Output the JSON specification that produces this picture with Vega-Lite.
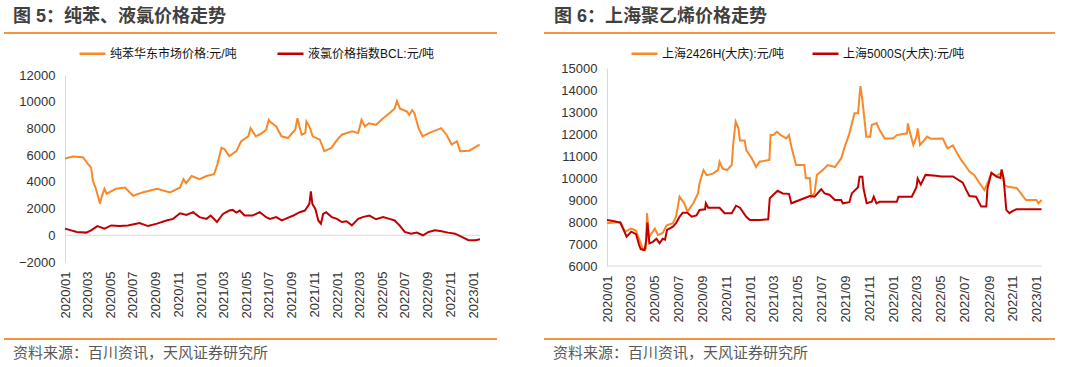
{
  "$schema": "https://vega.github.io/schema/vega-lite/v6.json",
  "background": "white",
  "padding": {"left": 4, "top": 8, "right": 0, "bottom": 0},
  "config": {
    "font": "Liberation Sans, Noto Sans CJK SC",
    "view": {"stroke": null},
    "axis": {"labelFont": "Liberation Sans, Noto Sans CJK SC", "labelFontSize": 13, "labelColor": "#333333", "domainColor": "#D9D9D9", "domainWidth": 1, "ticks": false, "grid": false, "title": null, "labelOverlap": false},
    "legend": {"labelFont": "Liberation Sans, Noto Sans CJK SC", "labelFontSize": 12, "labelColor": "#111111", "title": null, "padding": 0},
    "title": {"anchor": "start", "font": "Liberation Sans, Noto Sans CJK SC", "fontSize": 18, "fontWeight": "bold", "color": "#404040"}
  },
  "resolve": {"scale": {"x": "independent", "y": "independent", "color": "independent"}, "legend": {"color": "independent"}, "axis": {"x": "independent", "y": "independent"}},
  "spacing": 47,
  "hconcat": [
    {
      "spacing": 3,
      "resolve": {"scale": {"x": "independent", "y": "independent", "color": "independent"}, "legend": {"color": "independent"}},
      "vconcat": [
        {
          "width": 493, "height": 2,
          "view": {"fill": "#F29540", "stroke": null},
          "title": {"text": "图 5：纯苯、液氯价格走势", "dx": 9, "offset": -14, "baseline": "bottom"},
          "data": {"values": [{}]},
          "mark": {"type": "point", "opacity": 0},
          "encoding": {}
        },
        {
          "width": 476, "height": 187,
          "layer": [
            {
              "data": {"values": [{}]},
              "mark": {"type": "rule", "color": "#D9D9D9", "strokeWidth": 1},
              "encoding": {
                "y": {"datum": 0, "type": "quantitative",
                  "scale": {"domain": [-2000, 12000], "nice": false, "zero": false},
                  "axis": {"values": [-2000, 0, 2000, 4000, 6000, 8000, 10000, 12000], "format": "d", "labelPadding": 10, "offset": -61, "labelOverlap": false}},
                "x": {"datum": {"year": 2020, "month": 1, "date": 1, "utc": true}, "type": "temporal",
                  "scale": {"type": "utc", "range": [61, 476], "domain": [{"year": 2020, "month": 1, "date": 1, "utc": true}, {"year": 2023, "month": 1, "date": 19, "utc": true}]},
                  "axis": {"format": "%Y/%m", "labelAngle": -90, "domain": false, "labelPadding": 9, "minExtent": 71, "labelFlush": false, "labelOverlap": false,
                    "values": [
                      {"year": 2020, "month": 1, "date": 1, "utc": true}, {"year": 2020, "month": 3, "date": 1, "utc": true}, {"year": 2020, "month": 5, "date": 1, "utc": true}, {"year": 2020, "month": 7, "date": 1, "utc": true}, {"year": 2020, "month": 9, "date": 1, "utc": true}, {"year": 2020, "month": 11, "date": 1, "utc": true},
                      {"year": 2021, "month": 1, "date": 1, "utc": true}, {"year": 2021, "month": 3, "date": 1, "utc": true}, {"year": 2021, "month": 5, "date": 1, "utc": true}, {"year": 2021, "month": 7, "date": 1, "utc": true}, {"year": 2021, "month": 9, "date": 1, "utc": true}, {"year": 2021, "month": 11, "date": 1, "utc": true},
                      {"year": 2022, "month": 1, "date": 1, "utc": true}, {"year": 2022, "month": 3, "date": 1, "utc": true}, {"year": 2022, "month": 5, "date": 1, "utc": true}, {"year": 2022, "month": 7, "date": 1, "utc": true}, {"year": 2022, "month": 9, "date": 1, "utc": true}, {"year": 2022, "month": 11, "date": 1, "utc": true},
                      {"year": 2023, "month": 1, "date": 1, "utc": true}
                    ]}},
                "x2": {"datum": {"year": 2023, "month": 1, "date": 19, "utc": true}}
              }
            },
            {
              "data": {"values": [
                {"date": "2020-01-01", "series": "纯苯华东市场价格:元/吨", "value": 5750},
                {"date": "2020-01-22", "series": "纯苯华东市场价格:元/吨", "value": 5900},
                {"date": "2020-02-18", "series": "纯苯华东市场价格:元/吨", "value": 5850},
                {"date": "2020-03-03", "series": "纯苯华东市场价格:元/吨", "value": 5330},
                {"date": "2020-03-11", "series": "纯苯华东市场价格:元/吨", "value": 5060},
                {"date": "2020-03-16", "series": "纯苯华东市场价格:元/吨", "value": 4070},
                {"date": "2020-03-24", "series": "纯苯华东市场价格:元/吨", "value": 3480},
                {"date": "2020-04-04", "series": "纯苯华东市场价格:元/吨", "value": 2370},
                {"date": "2020-04-08", "series": "纯苯华东市场价格:元/吨", "value": 2840},
                {"date": "2020-04-16", "series": "纯苯华东市场价格:元/吨", "value": 3480},
                {"date": "2020-04-22", "series": "纯苯华东市场价格:元/吨", "value": 3110},
                {"date": "2020-05-01", "series": "纯苯华东市场价格:元/吨", "value": 3250},
                {"date": "2020-05-17", "series": "纯苯华东市场价格:元/吨", "value": 3480},
                {"date": "2020-06-10", "series": "纯苯华东市场价格:元/吨", "value": 3580},
                {"date": "2020-07-02", "series": "纯苯华东市场价格:元/吨", "value": 2960},
                {"date": "2020-07-27", "series": "纯苯华东市场价格:元/吨", "value": 3210},
                {"date": "2020-09-04", "series": "纯苯华东市场价格:元/吨", "value": 3480},
                {"date": "2020-10-09", "series": "纯苯华东市场价格:元/吨", "value": 3210},
                {"date": "2020-11-05", "series": "纯苯华东市场价格:元/吨", "value": 3580},
                {"date": "2020-11-14", "series": "纯苯华东市场价格:元/吨", "value": 4200},
                {"date": "2020-11-21", "series": "纯苯华东市场价格:元/吨", "value": 3900},
                {"date": "2020-12-06", "series": "纯苯华东市场价格:元/吨", "value": 4440},
                {"date": "2020-12-27", "series": "纯苯华东市场价格:元/吨", "value": 4200},
                {"date": "2021-01-15", "series": "纯苯华东市场价格:元/吨", "value": 4440},
                {"date": "2021-02-04", "series": "纯苯华东市场价格:元/吨", "value": 4570},
                {"date": "2021-02-13", "series": "纯苯华东市场价格:元/吨", "value": 5310},
                {"date": "2021-02-24", "series": "纯苯华东市场价格:元/吨", "value": 6540},
                {"date": "2021-03-04", "series": "纯苯华东市场价格:元/吨", "value": 6450},
                {"date": "2021-03-17", "series": "纯苯华东市场价格:元/吨", "value": 5930},
                {"date": "2021-04-05", "series": "纯苯华东市场价格:元/吨", "value": 6300},
                {"date": "2021-04-18", "series": "纯苯华东市场价格:元/吨", "value": 7040},
                {"date": "2021-05-07", "series": "纯苯华东市场价格:元/吨", "value": 7410},
                {"date": "2021-05-13", "series": "纯苯华东市场价格:元/吨", "value": 8020},
                {"date": "2021-05-27", "series": "纯苯华东市场价格:元/吨", "value": 7410},
                {"date": "2021-06-10", "series": "纯苯华东市场价格:元/吨", "value": 7600},
                {"date": "2021-06-24", "series": "纯苯华东市场价格:元/吨", "value": 7900},
                {"date": "2021-07-01", "series": "纯苯华东市场价格:元/吨", "value": 8640},
                {"date": "2021-07-04", "series": "纯苯华东市场价格:元/吨", "value": 8520},
                {"date": "2021-07-21", "series": "纯苯华东市场价格:元/吨", "value": 8150},
                {"date": "2021-08-04", "series": "纯苯华东市场价格:元/吨", "value": 7410},
                {"date": "2021-08-21", "series": "纯苯华东市场价格:元/吨", "value": 7280},
                {"date": "2021-09-10", "series": "纯苯华东市场价格:元/吨", "value": 7900},
                {"date": "2021-09-16", "series": "纯苯华东市场价格:元/吨", "value": 8760},
                {"date": "2021-09-27", "series": "纯苯华东市场价格:元/吨", "value": 7530},
                {"date": "2021-10-07", "series": "纯苯华东市场价格:元/吨", "value": 7650},
                {"date": "2021-10-10", "series": "纯苯华东市场价格:元/吨", "value": 8520},
                {"date": "2021-10-18", "series": "纯苯华东市场价格:元/吨", "value": 8150},
                {"date": "2021-10-27", "series": "纯苯华东市场价格:元/吨", "value": 7410},
                {"date": "2021-11-15", "series": "纯苯华东市场价格:元/吨", "value": 7160},
                {"date": "2021-11-27", "series": "纯苯华东市场价格:元/吨", "value": 6300},
                {"date": "2021-12-16", "series": "纯苯华东市场价格:元/吨", "value": 6540},
                {"date": "2022-01-01", "series": "纯苯华东市场价格:元/吨", "value": 7160},
                {"date": "2022-01-13", "series": "纯苯华东市场价格:元/吨", "value": 7530},
                {"date": "2022-02-10", "series": "纯苯华东市场价格:元/吨", "value": 7780},
                {"date": "2022-02-26", "series": "纯苯华东市场价格:元/吨", "value": 7650},
                {"date": "2022-03-07", "series": "纯苯华东市场价格:元/吨", "value": 8640},
                {"date": "2022-03-16", "series": "纯苯华东市场价格:元/吨", "value": 8150},
                {"date": "2022-03-27", "series": "纯苯华东市场价格:元/吨", "value": 8390},
                {"date": "2022-04-15", "series": "纯苯华东市场价格:元/吨", "value": 8270},
                {"date": "2022-05-04", "series": "纯苯华东市场价格:元/吨", "value": 8760},
                {"date": "2022-05-21", "series": "纯苯华东市场价格:元/吨", "value": 9130},
                {"date": "2022-06-04", "series": "纯苯华东市场价格:元/吨", "value": 9500},
                {"date": "2022-06-10", "series": "纯苯华东市场价格:元/吨", "value": 10050},
                {"date": "2022-06-18", "series": "纯苯华东市场价格:元/吨", "value": 9500},
                {"date": "2022-07-07", "series": "纯苯华东市场价格:元/吨", "value": 9260},
                {"date": "2022-07-13", "series": "纯苯华东市场价格:元/吨", "value": 9010},
                {"date": "2022-07-21", "series": "纯苯华东市场价格:元/吨", "value": 9380},
                {"date": "2022-07-27", "series": "纯苯华东市场价格:元/吨", "value": 9130},
                {"date": "2022-08-07", "series": "纯苯华东市场价格:元/吨", "value": 8020},
                {"date": "2022-08-18", "series": "纯苯华东市场价格:元/吨", "value": 7410},
                {"date": "2022-09-04", "series": "纯苯华东市场价格:元/吨", "value": 7650},
                {"date": "2022-10-07", "series": "纯苯华东市场价格:元/吨", "value": 8020},
                {"date": "2022-10-21", "series": "纯苯华东市场价格:元/吨", "value": 7530},
                {"date": "2022-11-04", "series": "纯苯华东市场价格:元/吨", "value": 6790},
                {"date": "2022-11-18", "series": "纯苯华东市场价格:元/吨", "value": 7040},
                {"date": "2022-11-27", "series": "纯苯华东市场价格:元/吨", "value": 6300},
                {"date": "2022-12-21", "series": "纯苯华东市场价格:元/吨", "value": 6330},
                {"date": "2023-01-18", "series": "纯苯华东市场价格:元/吨", "value": 6790},
                {"date": "2020-01-01", "series": "液氯价格指数BCL:元/吨", "value": 500},
                {"date": "2020-02-02", "series": "液氯价格指数BCL:元/吨", "value": 250},
                {"date": "2020-02-27", "series": "液氯价格指数BCL:元/吨", "value": 200},
                {"date": "2020-03-11", "series": "液氯价格指数BCL:元/吨", "value": 370},
                {"date": "2020-03-28", "series": "液氯价格指数BCL:元/吨", "value": 690},
                {"date": "2020-04-16", "series": "液氯价格指数BCL:元/吨", "value": 500},
                {"date": "2020-05-04", "series": "液氯价格指数BCL:元/吨", "value": 740},
                {"date": "2020-05-26", "series": "液氯价格指数BCL:元/吨", "value": 700},
                {"date": "2020-06-18", "series": "液氯价格指数BCL:元/吨", "value": 740},
                {"date": "2020-07-10", "series": "液氯价格指数BCL:元/吨", "value": 870},
                {"date": "2020-07-19", "series": "液氯价格指数BCL:元/吨", "value": 920},
                {"date": "2020-08-11", "series": "液氯价格指数BCL:元/吨", "value": 690},
                {"date": "2020-09-04", "series": "液氯价格指数BCL:元/吨", "value": 870},
                {"date": "2020-09-29", "series": "液氯价格指数BCL:元/吨", "value": 1110},
                {"date": "2020-10-17", "series": "液氯价格指数BCL:元/吨", "value": 1230},
                {"date": "2020-11-05", "series": "液氯价格指数BCL:元/吨", "value": 1650},
                {"date": "2020-11-22", "series": "液氯价格指数BCL:元/吨", "value": 1530},
                {"date": "2020-12-10", "series": "液氯价格指数BCL:元/吨", "value": 1730},
                {"date": "2020-12-27", "series": "液氯价格指数BCL:元/吨", "value": 1360},
                {"date": "2021-01-15", "series": "液氯价格指数BCL:元/吨", "value": 1230},
                {"date": "2021-01-26", "series": "液氯价格指数BCL:元/吨", "value": 1480},
                {"date": "2021-02-12", "series": "液氯价格指数BCL:元/吨", "value": 990},
                {"date": "2021-02-28", "series": "液氯价格指数BCL:元/吨", "value": 1600},
                {"date": "2021-03-17", "series": "液氯价格指数BCL:元/吨", "value": 1850},
                {"date": "2021-03-26", "series": "液氯价格指数BCL:元/吨", "value": 1900},
                {"date": "2021-04-05", "series": "液氯价格指数BCL:元/吨", "value": 1700},
                {"date": "2021-04-14", "series": "液氯价格指数BCL:元/吨", "value": 1850},
                {"date": "2021-04-27", "series": "液氯价格指数BCL:元/吨", "value": 1480},
                {"date": "2021-05-19", "series": "液氯价格指数BCL:元/吨", "value": 1480},
                {"date": "2021-06-07", "series": "液氯价格指数BCL:元/吨", "value": 1730},
                {"date": "2021-06-24", "series": "液氯价格指数BCL:元/吨", "value": 1350},
                {"date": "2021-07-04", "series": "液氯价格指数BCL:元/吨", "value": 1230},
                {"date": "2021-07-21", "series": "液氯价格指数BCL:元/吨", "value": 1360},
                {"date": "2021-08-05", "series": "液氯价格指数BCL:元/吨", "value": 1110},
                {"date": "2021-08-21", "series": "液氯价格指数BCL:元/吨", "value": 1300},
                {"date": "2021-09-05", "series": "液氯价格指数BCL:元/吨", "value": 1480},
                {"date": "2021-09-22", "series": "液氯价格指数BCL:元/吨", "value": 1730},
                {"date": "2021-10-06", "series": "液氯价格指数BCL:元/吨", "value": 1850},
                {"date": "2021-10-18", "series": "液氯价格指数BCL:元/吨", "value": 2350},
                {"date": "2021-10-22", "series": "液氯价格指数BCL:元/吨", "value": 3280},
                {"date": "2021-10-26", "series": "液氯价格指数BCL:元/吨", "value": 2350},
                {"date": "2021-11-03", "series": "液氯价格指数BCL:元/吨", "value": 1970},
                {"date": "2021-11-11", "series": "液氯价格指数BCL:元/吨", "value": 1110},
                {"date": "2021-11-18", "series": "液氯价格指数BCL:元/吨", "value": 870},
                {"date": "2021-11-24", "series": "液氯价格指数BCL:元/吨", "value": 1600},
                {"date": "2021-12-02", "series": "液氯价格指数BCL:元/吨", "value": 1730},
                {"date": "2021-12-17", "series": "液氯价格指数BCL:元/吨", "value": 1360},
                {"date": "2021-12-31", "series": "液氯价格指数BCL:元/吨", "value": 1230},
                {"date": "2022-01-13", "series": "液氯价格指数BCL:元/吨", "value": 990},
                {"date": "2022-01-26", "series": "液氯价格指数BCL:元/吨", "value": 1050},
                {"date": "2022-02-09", "series": "液氯价格指数BCL:元/吨", "value": 740},
                {"date": "2022-02-26", "series": "液氯价格指数BCL:元/吨", "value": 1230},
                {"date": "2022-03-10", "series": "液氯价格指数BCL:元/吨", "value": 1360},
                {"date": "2022-03-28", "series": "液氯价格指数BCL:元/吨", "value": 1480},
                {"date": "2022-04-15", "series": "液氯价格指数BCL:元/吨", "value": 1200},
                {"date": "2022-05-04", "series": "液氯价格指数BCL:元/吨", "value": 1360},
                {"date": "2022-05-21", "series": "液氯价格指数BCL:元/吨", "value": 1230},
                {"date": "2022-06-04", "series": "液氯价格指数BCL:元/吨", "value": 1110},
                {"date": "2022-06-17", "series": "液氯价格指数BCL:元/吨", "value": 740},
                {"date": "2022-07-01", "series": "液氯价格指数BCL:元/吨", "value": 250},
                {"date": "2022-07-18", "series": "液氯价格指数BCL:元/吨", "value": 120},
                {"date": "2022-08-02", "series": "液氯价格指数BCL:元/吨", "value": 200},
                {"date": "2022-08-19", "series": "液氯价格指数BCL:元/吨", "value": 0},
                {"date": "2022-09-03", "series": "液氯价格指数BCL:元/吨", "value": 250},
                {"date": "2022-09-20", "series": "液氯价格指数BCL:元/吨", "value": 370},
                {"date": "2022-10-08", "series": "液氯价格指数BCL:元/吨", "value": 300},
                {"date": "2022-10-25", "series": "液氯价格指数BCL:元/吨", "value": 200},
                {"date": "2022-11-13", "series": "液氯价格指数BCL:元/吨", "value": 120},
                {"date": "2022-12-01", "series": "液氯价格指数BCL:元/吨", "value": -120},
                {"date": "2022-12-19", "series": "液氯价格指数BCL:元/吨", "value": -370},
                {"date": "2023-01-07", "series": "液氯价格指数BCL:元/吨", "value": -370},
                {"date": "2023-01-19", "series": "液氯价格指数BCL:元/吨", "value": -300}
              ]},
              "mark": {"type": "line", "strokeWidth": 2},
              "encoding": {
                "x": {"field": "date", "type": "temporal",
                  "scale": {"type": "utc", "range": [61, 476], "domain": [{"year": 2020, "month": 1, "date": 1, "utc": true}, {"year": 2023, "month": 1, "date": 19, "utc": true}]},
                  "axis": {"format": "%Y/%m", "labelAngle": -90, "domain": false, "labelPadding": 9, "minExtent": 71, "labelFlush": false, "labelOverlap": false,
                    "values": [
                      {"year": 2020, "month": 1, "date": 1, "utc": true}, {"year": 2020, "month": 3, "date": 1, "utc": true}, {"year": 2020, "month": 5, "date": 1, "utc": true}, {"year": 2020, "month": 7, "date": 1, "utc": true}, {"year": 2020, "month": 9, "date": 1, "utc": true}, {"year": 2020, "month": 11, "date": 1, "utc": true},
                      {"year": 2021, "month": 1, "date": 1, "utc": true}, {"year": 2021, "month": 3, "date": 1, "utc": true}, {"year": 2021, "month": 5, "date": 1, "utc": true}, {"year": 2021, "month": 7, "date": 1, "utc": true}, {"year": 2021, "month": 9, "date": 1, "utc": true}, {"year": 2021, "month": 11, "date": 1, "utc": true},
                      {"year": 2022, "month": 1, "date": 1, "utc": true}, {"year": 2022, "month": 3, "date": 1, "utc": true}, {"year": 2022, "month": 5, "date": 1, "utc": true}, {"year": 2022, "month": 7, "date": 1, "utc": true}, {"year": 2022, "month": 9, "date": 1, "utc": true}, {"year": 2022, "month": 11, "date": 1, "utc": true},
                      {"year": 2023, "month": 1, "date": 1, "utc": true}
                    ]}},
                "y": {"field": "value", "type": "quantitative",
                  "scale": {"domain": [-2000, 12000], "nice": false, "zero": false},
                  "axis": {"values": [-2000, 0, 2000, 4000, 6000, 8000, 10000, 12000], "format": "d", "labelPadding": 10, "offset": -61, "labelOverlap": false}},
                "color": {"field": "series", "type": "nominal",
                  "scale": {"domain": ["纯苯华东市场价格:元/吨", "液氯价格指数BCL:元/吨"], "range": ["#F7892B", "#C00000"]},
                  "legend": {"orient": "none", "legendX": 74, "legendY": -36, "direction": "horizontal", "symbolType": "stroke", "symbolSize": 676, "symbolStrokeWidth": 2.5, "columnPadding": 35, "labelOffset": 3}}
              }
            }
          ]
        },
        {
          "width": 493, "height": 2,
          "view": {"fill": "#F29540", "stroke": null},
          "title": {"text": "资料来源：百川资讯，天风证券研究所", "orient": "bottom", "dx": 9, "offset": 4, "fontSize": 15, "fontWeight": "normal", "color": "#595959", "baseline": "top"},
          "data": {"values": [{}]},
          "mark": {"type": "point", "opacity": 0},
          "encoding": {}
        }
      ]
    },
    {
      "spacing": 3,
      "resolve": {"scale": {"x": "independent", "y": "independent", "color": "independent"}, "legend": {"color": "independent"}},
      "vconcat": [
        {
          "width": 511, "height": 2,
          "view": {"fill": "#F29540", "stroke": null},
          "title": {"text": "图 6：上海聚乙烯价格走势", "dx": 10, "offset": -14, "baseline": "bottom"},
          "data": {"values": [{}]},
          "mark": {"type": "point", "opacity": 0},
          "encoding": {}
        },
        {
          "width": 498, "height": 198,
          "layer": [
            {
              "data": {"values": [{}]},
              "mark": {"type": "rule", "color": "#D9D9D9", "strokeWidth": 1},
              "encoding": {
                "y": {"datum": 6000, "type": "quantitative",
                  "scale": {"domain": [6000, 15000], "nice": false, "zero": false},
                  "axis": {"values": [6000, 7000, 8000, 9000, 10000, 11000, 12000, 13000, 14000, 15000], "format": "d", "labelPadding": 10, "offset": -63, "labelOverlap": false}},
                "x": {"datum": {"year": 2020, "month": 1, "date": 1, "utc": true}, "type": "temporal",
                  "scale": {"type": "utc", "range": [63, 498], "domain": [{"year": 2020, "month": 1, "date": 1, "utc": true}, {"year": 2023, "month": 1, "date": 14, "utc": true}]},
                  "axis": {"format": "%Y/%m", "labelAngle": -90, "domain": false, "labelPadding": 9, "minExtent": 67, "labelFlush": false, "labelOverlap": false,
                    "values": [
                      {"year": 2020, "month": 1, "date": 1, "utc": true}, {"year": 2020, "month": 3, "date": 1, "utc": true}, {"year": 2020, "month": 5, "date": 1, "utc": true}, {"year": 2020, "month": 7, "date": 1, "utc": true}, {"year": 2020, "month": 9, "date": 1, "utc": true}, {"year": 2020, "month": 11, "date": 1, "utc": true},
                      {"year": 2021, "month": 1, "date": 1, "utc": true}, {"year": 2021, "month": 3, "date": 1, "utc": true}, {"year": 2021, "month": 5, "date": 1, "utc": true}, {"year": 2021, "month": 7, "date": 1, "utc": true}, {"year": 2021, "month": 9, "date": 1, "utc": true}, {"year": 2021, "month": 11, "date": 1, "utc": true},
                      {"year": 2022, "month": 1, "date": 1, "utc": true}, {"year": 2022, "month": 3, "date": 1, "utc": true}, {"year": 2022, "month": 5, "date": 1, "utc": true}, {"year": 2022, "month": 7, "date": 1, "utc": true}, {"year": 2022, "month": 9, "date": 1, "utc": true}, {"year": 2022, "month": 11, "date": 1, "utc": true},
                      {"year": 2023, "month": 1, "date": 1, "utc": true}
                    ]}},
                "x2": {"datum": {"year": 2023, "month": 1, "date": 14, "utc": true}}
              }
            },
            {
              "data": {"values": [
                {"date": "2020-01-01", "series": "上海2426H(大庆):元/吨", "value": 7940},
                {"date": "2020-02-04", "series": "上海2426H(大庆):元/吨", "value": 8000},
                {"date": "2020-02-16", "series": "上海2426H(大庆):元/吨", "value": 7560},
                {"date": "2020-03-03", "series": "上海2426H(大庆):元/吨", "value": 7700},
                {"date": "2020-03-15", "series": "上海2426H(大庆):元/吨", "value": 7600},
                {"date": "2020-03-27", "series": "上海2426H(大庆):元/吨", "value": 7030},
                {"date": "2020-04-02", "series": "上海2426H(大庆):元/吨", "value": 6730},
                {"date": "2020-04-09", "series": "上海2426H(大庆):元/吨", "value": 6800},
                {"date": "2020-04-12", "series": "上海2426H(大庆):元/吨", "value": 8400},
                {"date": "2020-04-17", "series": "上海2426H(大庆):元/吨", "value": 7300},
                {"date": "2020-05-02", "series": "上海2426H(大庆):元/吨", "value": 7700},
                {"date": "2020-05-10", "series": "上海2426H(大庆):元/吨", "value": 7400},
                {"date": "2020-05-22", "series": "上海2426H(大庆):元/吨", "value": 7500},
                {"date": "2020-06-01", "series": "上海2426H(大庆):元/吨", "value": 7850},
                {"date": "2020-06-17", "series": "上海2426H(大庆):元/吨", "value": 7950},
                {"date": "2020-06-25", "series": "上海2426H(大庆):元/吨", "value": 8240},
                {"date": "2020-07-04", "series": "上海2426H(大庆):元/吨", "value": 9150},
                {"date": "2020-07-16", "series": "上海2426H(大庆):元/吨", "value": 8850},
                {"date": "2020-07-24", "series": "上海2426H(大庆):元/吨", "value": 8470},
                {"date": "2020-08-08", "series": "上海2426H(大庆):元/吨", "value": 8850},
                {"date": "2020-08-20", "series": "上海2426H(大庆):元/吨", "value": 9300},
                {"date": "2020-08-24", "series": "上海2426H(大庆):元/吨", "value": 9760},
                {"date": "2020-09-03", "series": "上海2426H(大庆):元/吨", "value": 10360},
                {"date": "2020-09-11", "series": "上海2426H(大庆):元/吨", "value": 10130},
                {"date": "2020-09-27", "series": "上海2426H(大庆):元/吨", "value": 10200},
                {"date": "2020-10-10", "series": "上海2426H(大庆):元/吨", "value": 10360},
                {"date": "2020-10-14", "series": "上海2426H(大庆):元/吨", "value": 10740},
                {"date": "2020-10-22", "series": "上海2426H(大庆):元/吨", "value": 10420},
                {"date": "2020-11-02", "series": "上海2426H(大庆):元/吨", "value": 10360},
                {"date": "2020-11-14", "series": "上海2426H(大庆):元/吨", "value": 10590},
                {"date": "2020-11-18", "series": "上海2426H(大庆):元/吨", "value": 11580},
                {"date": "2020-11-24", "series": "上海2426H(大庆):元/吨", "value": 12560},
                {"date": "2020-12-01", "series": "上海2426H(大庆):元/吨", "value": 12270},
                {"date": "2020-12-05", "series": "上海2426H(大庆):元/吨", "value": 11700},
                {"date": "2020-12-17", "series": "上海2426H(大庆):元/吨", "value": 11700},
                {"date": "2020-12-21", "series": "上海2426H(大庆):元/吨", "value": 11270},
                {"date": "2021-01-04", "series": "上海2426H(大庆):元/吨", "value": 10900},
                {"date": "2021-01-15", "series": "上海2426H(大庆):元/吨", "value": 10500},
                {"date": "2021-01-24", "series": "上海2426H(大庆):元/吨", "value": 10740},
                {"date": "2021-02-18", "series": "上海2426H(大庆):元/吨", "value": 10820},
                {"date": "2021-02-21", "series": "上海2426H(大庆):元/吨", "value": 11950},
                {"date": "2021-02-28", "series": "上海2426H(大庆):元/吨", "value": 11950},
                {"date": "2021-03-09", "series": "上海2426H(大庆):元/吨", "value": 12100},
                {"date": "2021-03-19", "series": "上海2426H(大庆):元/吨", "value": 11950},
                {"date": "2021-04-02", "series": "上海2426H(大庆):元/吨", "value": 11800},
                {"date": "2021-04-09", "series": "上海2426H(大庆):元/吨", "value": 11950},
                {"date": "2021-04-15", "series": "上海2426H(大庆):元/吨", "value": 11420},
                {"date": "2021-04-27", "series": "上海2426H(大庆):元/吨", "value": 10590},
                {"date": "2021-05-18", "series": "上海2426H(大庆):元/吨", "value": 10590},
                {"date": "2021-05-22", "series": "上海2426H(大庆):元/吨", "value": 9990},
                {"date": "2021-06-01", "series": "上海2426H(大庆):元/吨", "value": 10000},
                {"date": "2021-06-05", "series": "上海2426H(大庆):元/吨", "value": 9150},
                {"date": "2021-06-13", "series": "上海2426H(大庆):元/吨", "value": 9300},
                {"date": "2021-06-19", "series": "上海2426H(大庆):元/吨", "value": 10140},
                {"date": "2021-07-04", "series": "上海2426H(大庆):元/吨", "value": 10360},
                {"date": "2021-07-17", "series": "上海2426H(大庆):元/吨", "value": 10590},
                {"date": "2021-08-04", "series": "上海2426H(大庆):元/吨", "value": 10500},
                {"date": "2021-08-20", "series": "上海2426H(大庆):元/吨", "value": 10890},
                {"date": "2021-08-28", "series": "上海2426H(大庆):元/吨", "value": 11350},
                {"date": "2021-09-10", "series": "上海2426H(大庆):元/吨", "value": 12030},
                {"date": "2021-09-23", "series": "上海2426H(大庆):元/吨", "value": 12940},
                {"date": "2021-10-02", "series": "上海2426H(大庆):元/吨", "value": 12940},
                {"date": "2021-10-08", "series": "上海2426H(大庆):元/吨", "value": 14180},
                {"date": "2021-10-13", "series": "上海2426H(大庆):元/吨", "value": 13550},
                {"date": "2021-10-19", "series": "上海2426H(大庆):元/吨", "value": 12560},
                {"date": "2021-10-23", "series": "上海2426H(大庆):元/吨", "value": 11880},
                {"date": "2021-11-02", "series": "上海2426H(大庆):元/吨", "value": 11880},
                {"date": "2021-11-06", "series": "上海2426H(大庆):元/吨", "value": 12410},
                {"date": "2021-11-18", "series": "上海2426H(大庆):元/吨", "value": 12500},
                {"date": "2021-11-26", "series": "上海2426H(大庆):元/吨", "value": 12180},
                {"date": "2021-12-09", "series": "上海2426H(大庆):元/吨", "value": 11800},
                {"date": "2021-12-30", "series": "上海2426H(大庆):元/吨", "value": 11800},
                {"date": "2022-01-09", "series": "上海2426H(大庆):元/吨", "value": 11950},
                {"date": "2022-02-04", "series": "上海2426H(大庆):元/吨", "value": 12030},
                {"date": "2022-02-06", "series": "上海2426H(大庆):元/吨", "value": 12480},
                {"date": "2022-02-12", "series": "上海2426H(大庆):元/吨", "value": 12030},
                {"date": "2022-02-20", "series": "上海2426H(大庆):元/吨", "value": 11500},
                {"date": "2022-02-28", "series": "上海2426H(大庆):元/吨", "value": 11880},
                {"date": "2022-03-03", "series": "上海2426H(大庆):元/吨", "value": 12260},
                {"date": "2022-03-09", "series": "上海2426H(大庆):元/吨", "value": 11500},
                {"date": "2022-03-19", "series": "上海2426H(大庆):元/吨", "value": 11700},
                {"date": "2022-03-27", "series": "上海2426H(大庆):元/吨", "value": 11880},
                {"date": "2022-04-06", "series": "上海2426H(大庆):元/吨", "value": 11780},
                {"date": "2022-05-06", "series": "上海2426H(大庆):元/吨", "value": 11800},
                {"date": "2022-05-18", "series": "上海2426H(大庆):元/吨", "value": 11350},
                {"date": "2022-06-01", "series": "上海2426H(大庆):元/吨", "value": 11480},
                {"date": "2022-06-09", "series": "上海2426H(大庆):元/吨", "value": 11200},
                {"date": "2022-06-22", "series": "上海2426H(大庆):元/吨", "value": 10820},
                {"date": "2022-07-05", "series": "上海2426H(大庆):元/吨", "value": 10500},
                {"date": "2022-07-13", "series": "上海2426H(大庆):元/吨", "value": 10290},
                {"date": "2022-07-25", "series": "上海2426H(大庆):元/吨", "value": 10140},
                {"date": "2022-08-08", "series": "上海2426H(大庆):元/吨", "value": 9760},
                {"date": "2022-08-20", "series": "上海2426H(大庆):元/吨", "value": 9450},
                {"date": "2022-08-28", "series": "上海2426H(大庆):元/吨", "value": 9760},
                {"date": "2022-09-07", "series": "上海2426H(大庆):元/吨", "value": 10210},
                {"date": "2022-09-20", "series": "上海2426H(大庆):元/吨", "value": 10100},
                {"date": "2022-10-03", "series": "上海2426H(大庆):元/吨", "value": 10250},
                {"date": "2022-10-11", "series": "上海2426H(大庆):元/吨", "value": 9680},
                {"date": "2022-10-19", "series": "上海2426H(大庆):元/吨", "value": 9600},
                {"date": "2022-11-10", "series": "上海2426H(大庆):元/吨", "value": 9550},
                {"date": "2022-11-18", "series": "上海2426H(大庆):元/吨", "value": 9380},
                {"date": "2022-12-04", "series": "上海2426H(大庆):元/吨", "value": 9000},
                {"date": "2022-12-31", "series": "上海2426H(大庆):元/吨", "value": 9000},
                {"date": "2023-01-05", "series": "上海2426H(大庆):元/吨", "value": 8850},
                {"date": "2023-01-13", "series": "上海2426H(大庆):元/吨", "value": 9000},
                {"date": "2020-01-01", "series": "上海5000S(大庆):元/吨", "value": 8090},
                {"date": "2020-01-16", "series": "上海5000S(大庆):元/吨", "value": 8050},
                {"date": "2020-02-04", "series": "上海5000S(大庆):元/吨", "value": 7970},
                {"date": "2020-02-20", "series": "上海5000S(大庆):元/吨", "value": 7330},
                {"date": "2020-03-03", "series": "上海5000S(大庆):元/吨", "value": 7560},
                {"date": "2020-03-15", "series": "上海5000S(大庆):元/吨", "value": 7450},
                {"date": "2020-03-23", "series": "上海5000S(大庆):元/吨", "value": 6950},
                {"date": "2020-03-27", "series": "上海5000S(大庆):元/吨", "value": 6770},
                {"date": "2020-04-06", "series": "上海5000S(大庆):元/吨", "value": 6730},
                {"date": "2020-04-10", "series": "上海5000S(大庆):元/吨", "value": 7180},
                {"date": "2020-04-13", "series": "上海5000S(大庆):元/吨", "value": 7970},
                {"date": "2020-04-18", "series": "上海5000S(大庆):元/吨", "value": 7030},
                {"date": "2020-04-27", "series": "上海5000S(大庆):元/吨", "value": 7100},
                {"date": "2020-05-06", "series": "上海5000S(大庆):元/吨", "value": 7240},
                {"date": "2020-05-14", "series": "上海5000S(大庆):元/吨", "value": 7030},
                {"date": "2020-05-22", "series": "上海5000S(大庆):元/吨", "value": 7240},
                {"date": "2020-05-28", "series": "上海5000S(大庆):元/吨", "value": 7200},
                {"date": "2020-06-02", "series": "上海5000S(大庆):元/吨", "value": 7640},
                {"date": "2020-06-17", "series": "上海5000S(大庆):元/吨", "value": 7790},
                {"date": "2020-06-25", "series": "上海5000S(大庆):元/吨", "value": 7950},
                {"date": "2020-07-04", "series": "上海5000S(大庆):元/吨", "value": 8240},
                {"date": "2020-07-12", "series": "上海5000S(大庆):元/吨", "value": 8420},
                {"date": "2020-07-24", "series": "上海5000S(大庆):元/吨", "value": 8420},
                {"date": "2020-08-04", "series": "上海5000S(大庆):元/吨", "value": 8240},
                {"date": "2020-08-16", "series": "上海5000S(大庆):元/吨", "value": 8300},
                {"date": "2020-08-24", "series": "上海5000S(大庆):元/吨", "value": 8550},
                {"date": "2020-09-07", "series": "上海5000S(大庆):元/吨", "value": 8580},
                {"date": "2020-09-09", "series": "上海5000S(大庆):元/吨", "value": 8850},
                {"date": "2020-09-15", "series": "上海5000S(大庆):元/吨", "value": 8650},
                {"date": "2020-10-14", "series": "上海5000S(大庆):元/吨", "value": 8650},
                {"date": "2020-10-27", "series": "上海5000S(大庆):元/吨", "value": 8400},
                {"date": "2020-11-14", "series": "上海5000S(大庆):元/吨", "value": 8400},
                {"date": "2020-11-25", "series": "上海5000S(大庆):元/吨", "value": 8740},
                {"date": "2020-12-05", "series": "上海5000S(大庆):元/吨", "value": 8650},
                {"date": "2020-12-21", "series": "上海5000S(大庆):元/吨", "value": 8240},
                {"date": "2020-12-30", "series": "上海5000S(大庆):元/吨", "value": 8090},
                {"date": "2021-01-24", "series": "上海5000S(大庆):元/吨", "value": 8090},
                {"date": "2021-02-15", "series": "上海5000S(大庆):元/吨", "value": 8120},
                {"date": "2021-02-19", "series": "上海5000S(大庆):元/吨", "value": 9080},
                {"date": "2021-02-28", "series": "上海5000S(大庆):元/吨", "value": 9240},
                {"date": "2021-03-11", "series": "上海5000S(大庆):元/吨", "value": 9420},
                {"date": "2021-03-24", "series": "上海5000S(大庆):元/吨", "value": 9300},
                {"date": "2021-04-09", "series": "上海5000S(大庆):元/吨", "value": 9280},
                {"date": "2021-04-15", "series": "上海5000S(大庆):元/吨", "value": 8850},
                {"date": "2021-06-01", "series": "上海5000S(大庆):元/吨", "value": 9180},
                {"date": "2021-06-13", "series": "上海5000S(大庆):元/吨", "value": 9150},
                {"date": "2021-06-30", "series": "上海5000S(大庆):元/吨", "value": 9490},
                {"date": "2021-07-09", "series": "上海5000S(大庆):元/吨", "value": 9300},
                {"date": "2021-07-21", "series": "上海5000S(大庆):元/吨", "value": 9240},
                {"date": "2021-08-04", "series": "上海5000S(大庆):元/吨", "value": 9000},
                {"date": "2021-08-20", "series": "上海5000S(大庆):元/吨", "value": 9000},
                {"date": "2021-08-24", "series": "上海5000S(大庆):元/吨", "value": 8850},
                {"date": "2021-09-10", "series": "上海5000S(大庆):元/吨", "value": 8900},
                {"date": "2021-09-16", "series": "上海5000S(大庆):元/吨", "value": 9300},
                {"date": "2021-10-02", "series": "上海5000S(大庆):元/吨", "value": 9580},
                {"date": "2021-10-06", "series": "上海5000S(大庆):元/吨", "value": 10060},
                {"date": "2021-10-13", "series": "上海5000S(大庆):元/吨", "value": 10060},
                {"date": "2021-10-16", "series": "上海5000S(大庆):元/吨", "value": 9520},
                {"date": "2021-10-24", "series": "上海5000S(大庆):元/吨", "value": 8850},
                {"date": "2021-11-06", "series": "上海5000S(大庆):元/吨", "value": 8920},
                {"date": "2021-11-11", "series": "上海5000S(大庆):元/吨", "value": 9150},
                {"date": "2021-11-18", "series": "上海5000S(大庆):元/吨", "value": 8850},
                {"date": "2021-11-26", "series": "上海5000S(大庆):元/吨", "value": 8920},
                {"date": "2022-01-09", "series": "上海5000S(大庆):元/吨", "value": 8920},
                {"date": "2022-01-13", "series": "上海5000S(大庆):元/吨", "value": 9150},
                {"date": "2022-02-16", "series": "上海5000S(大庆):元/吨", "value": 9150},
                {"date": "2022-02-28", "series": "上海5000S(大庆):元/吨", "value": 9580},
                {"date": "2022-03-03", "series": "上海5000S(大庆):元/吨", "value": 9980},
                {"date": "2022-03-11", "series": "上海5000S(大庆):元/吨", "value": 9700},
                {"date": "2022-03-23", "series": "上海5000S(大庆):元/吨", "value": 10140},
                {"date": "2022-04-19", "series": "上海5000S(大庆):元/吨", "value": 10100},
                {"date": "2022-05-02", "series": "上海5000S(大庆):元/吨", "value": 10070},
                {"date": "2022-06-01", "series": "上海5000S(大庆):元/吨", "value": 10070},
                {"date": "2022-06-26", "series": "上海5000S(大庆):元/吨", "value": 9790},
                {"date": "2022-07-05", "series": "上海5000S(大庆):元/吨", "value": 9450},
                {"date": "2022-07-13", "series": "上海5000S(大庆):元/吨", "value": 9180},
                {"date": "2022-07-30", "series": "上海5000S(大庆):元/吨", "value": 9150},
                {"date": "2022-08-12", "series": "上海5000S(大庆):元/吨", "value": 8700},
                {"date": "2022-08-25", "series": "上海5000S(大庆):元/吨", "value": 8700},
                {"date": "2022-08-28", "series": "上海5000S(大庆):元/吨", "value": 9530},
                {"date": "2022-09-07", "series": "上海5000S(大庆):元/吨", "value": 10240},
                {"date": "2022-09-20", "series": "上海5000S(大庆):元/吨", "value": 10060},
                {"date": "2022-09-30", "series": "上海5000S(大庆):元/吨", "value": 10000},
                {"date": "2022-10-03", "series": "上海5000S(大庆):元/吨", "value": 10390},
                {"date": "2022-10-08", "series": "上海5000S(大庆):元/吨", "value": 10000},
                {"date": "2022-10-15", "series": "上海5000S(大庆):元/吨", "value": 8550},
                {"date": "2022-10-23", "series": "上海5000S(大庆):元/吨", "value": 8400},
                {"date": "2022-11-02", "series": "上海5000S(大庆):元/吨", "value": 8520},
                {"date": "2022-11-10", "series": "上海5000S(大庆):元/吨", "value": 8580},
                {"date": "2023-01-13", "series": "上海5000S(大庆):元/吨", "value": 8580}
              ]},
              "mark": {"type": "line", "strokeWidth": 2},
              "encoding": {
                "x": {"field": "date", "type": "temporal",
                  "scale": {"type": "utc", "range": [63, 498], "domain": [{"year": 2020, "month": 1, "date": 1, "utc": true}, {"year": 2023, "month": 1, "date": 14, "utc": true}]},
                  "axis": {"format": "%Y/%m", "labelAngle": -90, "domain": false, "labelPadding": 9, "minExtent": 67, "labelFlush": false, "labelOverlap": false,
                    "values": [
                      {"year": 2020, "month": 1, "date": 1, "utc": true}, {"year": 2020, "month": 3, "date": 1, "utc": true}, {"year": 2020, "month": 5, "date": 1, "utc": true}, {"year": 2020, "month": 7, "date": 1, "utc": true}, {"year": 2020, "month": 9, "date": 1, "utc": true}, {"year": 2020, "month": 11, "date": 1, "utc": true},
                      {"year": 2021, "month": 1, "date": 1, "utc": true}, {"year": 2021, "month": 3, "date": 1, "utc": true}, {"year": 2021, "month": 5, "date": 1, "utc": true}, {"year": 2021, "month": 7, "date": 1, "utc": true}, {"year": 2021, "month": 9, "date": 1, "utc": true}, {"year": 2021, "month": 11, "date": 1, "utc": true},
                      {"year": 2022, "month": 1, "date": 1, "utc": true}, {"year": 2022, "month": 3, "date": 1, "utc": true}, {"year": 2022, "month": 5, "date": 1, "utc": true}, {"year": 2022, "month": 7, "date": 1, "utc": true}, {"year": 2022, "month": 9, "date": 1, "utc": true}, {"year": 2022, "month": 11, "date": 1, "utc": true},
                      {"year": 2023, "month": 1, "date": 1, "utc": true}
                    ]}},
                "y": {"field": "value", "type": "quantitative",
                  "scale": {"domain": [6000, 15000], "nice": false, "zero": false},
                  "axis": {"values": [6000, 7000, 8000, 9000, 10000, 11000, 12000, 13000, 14000, 15000], "format": "d", "labelPadding": 10, "offset": -63, "labelOverlap": false}},
                "color": {"field": "series", "type": "nominal",
                  "scale": {"domain": ["上海2426H(大庆):元/吨", "上海5000S(大庆):元/吨"], "range": ["#F7892B", "#C00000"]},
                  "legend": {"orient": "none", "legendX": 86, "legendY": -29, "direction": "horizontal", "symbolType": "stroke", "symbolSize": 676, "symbolStrokeWidth": 2.5, "columnPadding": 22, "labelOffset": 3}}
              }
            }
          ]
        },
        {
          "width": 511, "height": 2,
          "view": {"fill": "#F29540", "stroke": null},
          "title": {"text": "资料来源：百川资讯，天风证券研究所", "orient": "bottom", "dx": 9, "offset": 4, "fontSize": 15, "fontWeight": "normal", "color": "#595959", "baseline": "top"},
          "data": {"values": [{}]},
          "mark": {"type": "point", "opacity": 0},
          "encoding": {}
        }
      ]
    }
  ]
}
